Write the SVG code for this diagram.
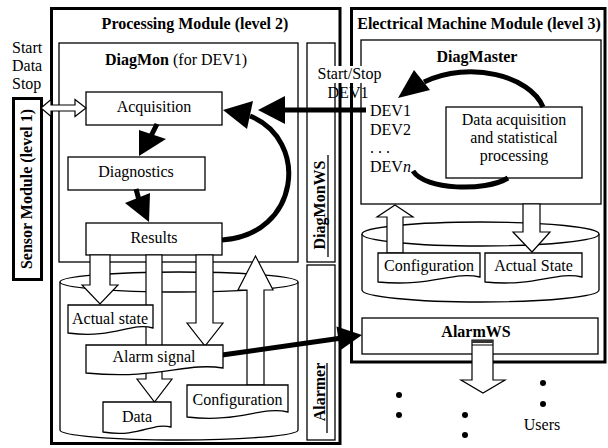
<svg xmlns="http://www.w3.org/2000/svg" width="608" height="448" viewBox="0 0 608 448" font-family="'Liberation Serif', 'DejaVu Serif', serif">
<style>
text{font-family:"Liberation Serif","DejaVu Serif",serif;font-size:16px;fill:#000}
.b{font-weight:bold}
.m{text-anchor:middle}
.box{fill:#fff;stroke:#000;stroke-width:1.3}
.frame{fill:none;stroke:#000;stroke-width:3}
.thin{fill:none;stroke:#000;stroke-width:1.3}
.wa{fill:#fff;stroke:#000;stroke-width:1.2;stroke-linejoin:miter}
.ba{fill:none;stroke:#000;stroke-width:5}
.bh{fill:#000;stroke:none}
</style>
<rect width="608" height="448" fill="#fff"/>

<g id="sensor-module">
<rect x="13.5" y="98.5" width="28" height="181" fill="#fff" stroke="#000" stroke-width="3"/>
<text class="b m" transform="translate(32,189) rotate(-90)">Sensor Module (level 1)</text>
</g>
<text x="12" y="53">Start</text>
<text x="12" y="71">Data</text>
<text x="12" y="89">Stop</text>

<g id="processing-module">
<rect class="frame" x="51.5" y="8.5" width="288.5" height="435"/>
<text class="b m" x="195" y="29">Processing Module (level 2)</text>
</g>

<g id="diagmon">
<rect class="thin" x="59" y="43" width="239" height="219"/>
<text x="105" y="65"><tspan class="b">DiagMon</tspan> (for DEV1)</text>
</g>

<g id="diagmonws">
<rect class="thin" x="307" y="43" width="28" height="219"/>
<text class="b m" transform="translate(325,205) rotate(-90)">DiagMonWS</text>
<line x1="328" y1="155" x2="328" y2="257" stroke="#000" stroke-width="1.3"/>
</g>

<g id="alarmer">
<rect class="thin" x="307" y="265" width="28" height="175"/>
<text class="b m" transform="translate(325,392) rotate(-90)">Alarmer</text>
<line x1="327" y1="363" x2="327" y2="433" stroke="#000" stroke-width="1.3"/>
</g>

<g id="database-left">
<path d="M60,282 V430 A119,10 0 0 0 298,430 V282" fill="#fff" stroke="#000" stroke-width="1.3"/>
<ellipse cx="179" cy="282" rx="119" ry="10" fill="#fff" stroke="#000" stroke-width="1.3"/>
</g>

<g id="acquisition">
<rect class="box" x="86" y="92" width="136" height="33"/>
<text class="m" x="154" y="112">Acquisition</text>
</g>
<g id="diagnostics">
<rect class="box" x="68" y="157" width="137" height="33"/>
<text class="m" x="136" y="177">Diagnostics</text>
</g>
<g id="results">
<rect class="box" x="86" y="223" width="136" height="32"/>
<text class="m" x="154" y="243">Results</text>
</g>

<g id="electrical-machine-module">
<rect class="frame" x="351.5" y="8.5" width="253.5" height="353.5"/>
<text class="b m" x="479" y="28.5">Electrical Machine Module (level 3)</text>
</g>

<g id="diagmaster">
<rect class="thin" x="361" y="40" width="240" height="164"/>
<text class="b m" x="477" y="62">DiagMaster</text>
</g>

<g id="dev-list">
<text x="370" y="116">DEV1</text>
<text x="370" y="135">DEV2</text>
<text x="370" y="153">. . .</text>
<text x="370" y="172">DEV<tspan font-style="italic">n</tspan></text>
</g>

<g id="data-processing">
<rect class="box" x="446" y="107" width="136" height="71"/>
<text class="m" x="514" y="125">Data acquisition</text>
<text class="m" x="514" y="143">and statistical</text>
<text class="m" x="514" y="161">processing</text>
</g>

<g id="database-right">
<path d="M362,234 V290 A118.5,12 0 0 0 599,290 V234" fill="#fff" stroke="#000" stroke-width="1.3"/>
<ellipse cx="480.5" cy="234" rx="118.5" ry="12" fill="#fff" stroke="#000" stroke-width="1.3"/>
</g>

<g id="alarmws">
<rect class="box" x="362" y="318" width="236" height="36"/>
<text class="b m" x="476" y="337">AlarmWS</text>
</g>

<g id="connectors">
<polygon class="wa" points="41,108 51,99.5 51,105 75,105 75,99.5 86,108 75,116.5 75,111 51,111 51,116.5"/>
<line class="ba" x1="157" y1="124" x2="151" y2="136"/>
<polygon class="bh" points="139,130 166,139 139,156"/>
<line class="ba" x1="136" y1="189" x2="139" y2="200"/>
<polygon class="bh" points="125,203 150,193 149,222"/>
<path class="ba" d="M222,240 C300,235 310,140 250,116"/>
<polygon class="bh" points="223,110 253,101 247,129"/>
<line class="ba" x1="366" y1="110" x2="282" y2="110"/>
<polygon class="bh" points="258,110 285,96 285,124"/>
<rect x="315" y="66" width="70" height="17" fill="#fff"/>
<text class="m" x="349.5" y="79">Start/Stop</text>
<text class="m" x="348" y="98">DEV1</text>
<polygon class="wa" points="90,255 110,255 110,285 118,285 100,304 82,285 90,285"/>
<polygon class="wa" points="146,255 162,255 162,379 172,379 154.5,402 137,379 146,379"/>
<polygon class="wa" points="196,255 213,255 213,323 223,323 205,346 187,323 196,323"/>
<polygon class="wa" points="247,385 264,385 264,290 273,290 255.5,256 238,290 247,290"/>
<line class="ba" x1="222" y1="355" x2="342" y2="338"/>
<polygon class="bh" points="362,335 336.5,326.5 340,350.5"/>
<path class="ba" d="M543,107 C530,76 470,60 424,82"/>
<polygon class="bh" points="398,98 414,70 430,90"/>
<path class="ba" d="M413,171 C425,190 485,192 508,178"/>
<polygon class="wa" points="387,253 403,253 403,217 413,217 395,205 377,217 387,217"/>
<polygon class="wa" points="523,204 540,204 540,232 550,232 532,252 513,232 523,232"/>
<polygon class="wa" points="472,340 493,340 493,380 505,380 483,393 461,380 472,380"/>
<rect x="472" y="340" width="21" height="3" fill="#333"/>
<line x1="472" y1="345" x2="493" y2="345" stroke="#000" stroke-width="1"/>
</g>

<g id="actual-state">
<path class="box" d="M68,305 H153 V328 C130,322 115,339 68,333 Z"/>
<text class="m" x="110" y="324">Actual state</text>
</g>
<g id="alarm-signal">
<path class="box" d="M86,345 H223 V368 C185,362 160,380 86,373 Z"/>
<text class="m" x="154" y="362">Alarm signal</text>
</g>
<g id="data">
<path class="box" d="M103,402 H171 V427 C152,422 140,438 103,432 Z"/>
<text class="m" x="137" y="422">Data</text>
</g>
<g id="configuration-left">
<path class="box" d="M187,385 H288 V412 C260,406 240,423 187,417 Z"/>
<text class="m" x="237.5" y="405">Configuration</text>
</g>
<g id="configuration-right">
<path class="box" d="M378,253 H480 V277 C452,271 432,287 378,282 Z"/>
<text class="m" x="429" y="271">Configuration</text>
</g>
<g id="actual-state-right">
<path class="box" d="M485,253 H582 V277 C556,271 536,287 485,282 Z"/>
<text class="m" x="533.5" y="271">Actual State</text>
</g>

<g id="users">
<circle cx="399" cy="395" r="3"/>
<circle cx="399" cy="415" r="3"/>
<circle cx="465" cy="415" r="3"/>
<circle cx="465" cy="435" r="3"/>
<circle cx="543" cy="383" r="3"/>
<circle cx="543" cy="404" r="3"/>
<text class="m" x="542" y="430">Users</text>
</g>
</svg>
